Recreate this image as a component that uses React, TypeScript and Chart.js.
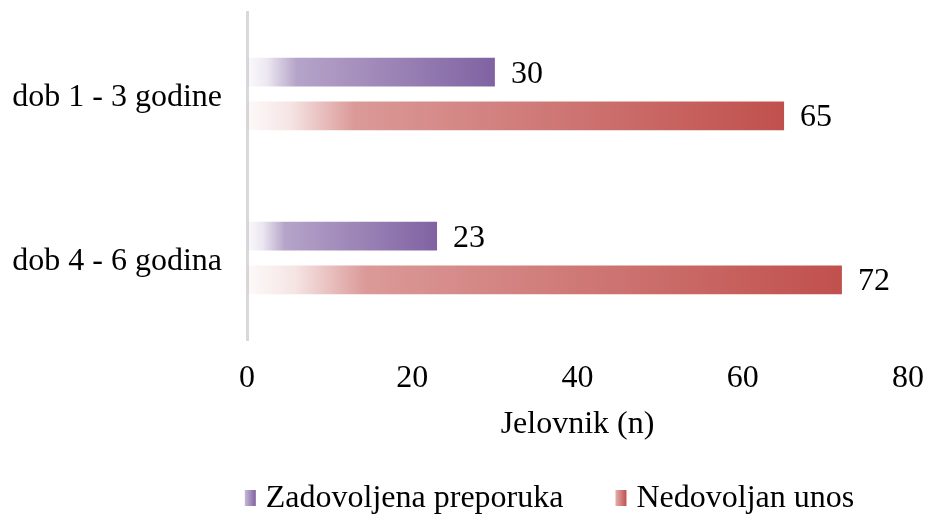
import React, { useEffect, useRef } from "react";
import { Chart, registerables } from "chart.js";

Chart.register(...registerables);

const categories = ["dob 1 - 3 godine", "dob 4 - 6 godina"];
const seriesNames = ["Zadovoljena preporuka", "Nedovoljan unos"];
const zadovoljenaPreporuka = [30, 23];
const nedovoljanUnos = [65, 72];
const xTickValues = [0, 20, 40, 60, 80];
const axisTitle = "Jelovnik (n)";
const seriesRgb = [
  [128, 98, 162],
  [192, 80, 77],
];

const FONT = "'Liberation Serif', 'Times New Roman', serif";
const FS = 32;

function rgba(rgb: number[], a: number) {
  return `rgba(${rgb[0]},${rgb[1]},${rgb[2]},${a})`;
}

function makeGradient(ctx: CanvasRenderingContext2D, x0: number, x1: number, rgb: number[]) {
  const g = ctx.createLinearGradient(x0, 0, x1, 0);
  g.addColorStop(0, rgba(rgb, 0.03));
  g.addColorStop(0.08, rgba(rgb, 0.15));
  g.addColorStop(0.2, rgba(rgb, 0.58));
  g.addColorStop(1, rgba(rgb, 1));
  return g;
}

const valueLabels = {
  id: "valueLabels",
  afterDatasetsDraw(chart: any) {
    const ctx = chart.ctx;
    ctx.save();
    ctx.font = `${FS}px ${FONT}`;
    ctx.fillStyle = "#000";
    ctx.textAlign = "left";
    ctx.textBaseline = "middle";
    chart.data.datasets.forEach((ds: any, i: number) => {
      const meta = chart.getDatasetMeta(i);
      meta.data.forEach((el: any, j: number) => {
        ctx.fillText(String(ds.data[j]), el.x + 16, el.y + 2);
      });
    });
    ctx.restore();
  },
};

const customLegend = {
  id: "customLegend",
  afterDraw(chart: any) {
    const ctx = chart.ctx;
    ctx.save();
    ctx.font = `${FS}px ${FONT}`;
    const markerW = 11;
    const markerH = 16;
    const gap = 10;
    const spacing = 52;
    const widths = chart.data.datasets.map((ds: any) => ctx.measureText(ds.label).width);
    let total = 0;
    widths.forEach((w: number, i: number) => {
      total += markerW + gap + w + (i > 0 ? spacing : 0);
    });
    let x = 549.5 - total / 2;
    const cy = 499;
    chart.data.datasets.forEach((ds: any, i: number) => {
      const rgb = seriesRgb[i];
      const g = ctx.createLinearGradient(x, 0, x + markerW, 0);
      g.addColorStop(0, rgba(rgb, 0.45));
      g.addColorStop(1, rgba(rgb, 1));
      ctx.fillStyle = g;
      ctx.fillRect(x, cy - 1 - markerH / 2, markerW, markerH);
      ctx.fillStyle = "#000";
      ctx.textAlign = "left";
      ctx.textBaseline = "middle";
      ctx.fillText(ds.label, x + markerW + gap, cy);
      x += markerW + gap + widths[i] + spacing;
    });
    ctx.restore();
  },
};

export default function App() {
  const ref = useRef<HTMLCanvasElement>(null);

  useEffect(() => {
    if (!ref.current) return;
    const bg = (i: number) => (c: any) => {
      const rgb = seriesRgb[i];
      const xs = c.chart.scales && c.chart.scales.x;
      if (!xs || c.raw == null || typeof c.raw !== "number") return rgba(rgb, 1);
      const x0 = xs.getPixelForValue(0);
      const x1 = xs.getPixelForValue(c.raw);
      if (!isFinite(x0) || !isFinite(x1) || x1 === x0) return rgba(rgb, 1);
      return makeGradient(c.chart.ctx, x0, x1, rgb);
    };
    const chart = new Chart(ref.current, {
      type: "bar",
      data: {
        labels: categories,
        datasets: [
          {
            label: seriesNames[0],
            data: zadovoljenaPreporuka,
            backgroundColor: bg(0),
            borderWidth: 0,
            categoryPercentage: 0.533,
            barPercentage: 0.66,
          },
          {
            label: seriesNames[1],
            data: nedovoljanUnos,
            backgroundColor: bg(1),
            borderWidth: 0,
            categoryPercentage: 0.533,
            barPercentage: 0.66,
          },
        ],
      },
      options: {
        indexAxis: "y",
        responsive: false,
        animation: false,
        layout: { padding: { top: 12, right: 20, left: 0, bottom: 56 } },
        plugins: {
          legend: { display: false },
          tooltip: { enabled: false },
        },
        scales: {
          x: {
            min: 0,
            max: 80,
            afterBuildTicks: (scale: any) => {
              scale.ticks = xTickValues.map((v) => ({ value: v }));
            },
            afterFit: (scale: any) => {
              scale.height = 120;
              scale.paddingLeft = 0;
              scale.paddingRight = 0;
            },
            grid: { display: false, drawTicks: false },
            border: { display: false },
            ticks: {
              color: "#000",
              padding: 19,
              font: { family: FONT, size: FS },
              maxRotation: 0,
            },
            title: {
              display: true,
              text: axisTitle,
              color: "#000",
              font: { family: FONT, size: FS },
              padding: { top: 0, bottom: 16 },
            },
          },
          y: {
            afterFit: (scale: any) => {
              scale.width = 247;
              scale.paddingTop = 0;
              scale.paddingBottom = 0;
            },
            grid: { display: false, drawTicks: false },
            border: { display: true, color: "#d9d9d9", width: 3 },
            ticks: {
              color: "#000",
              padding: 25,
              labelOffset: 4,
              font: { family: FONT, size: FS },
            },
          },
        },
      },
      plugins: [valueLabels, customLegend],
    } as any);
    chart.update();
    return () => chart.destroy();
  }, []);

  return (
    <canvas
      ref={ref}
      width={928}
      height={516}
      style={{ position: "absolute", left: 0, top: 0, width: 928, height: 516, display: "block" }}
    />
  );
}
